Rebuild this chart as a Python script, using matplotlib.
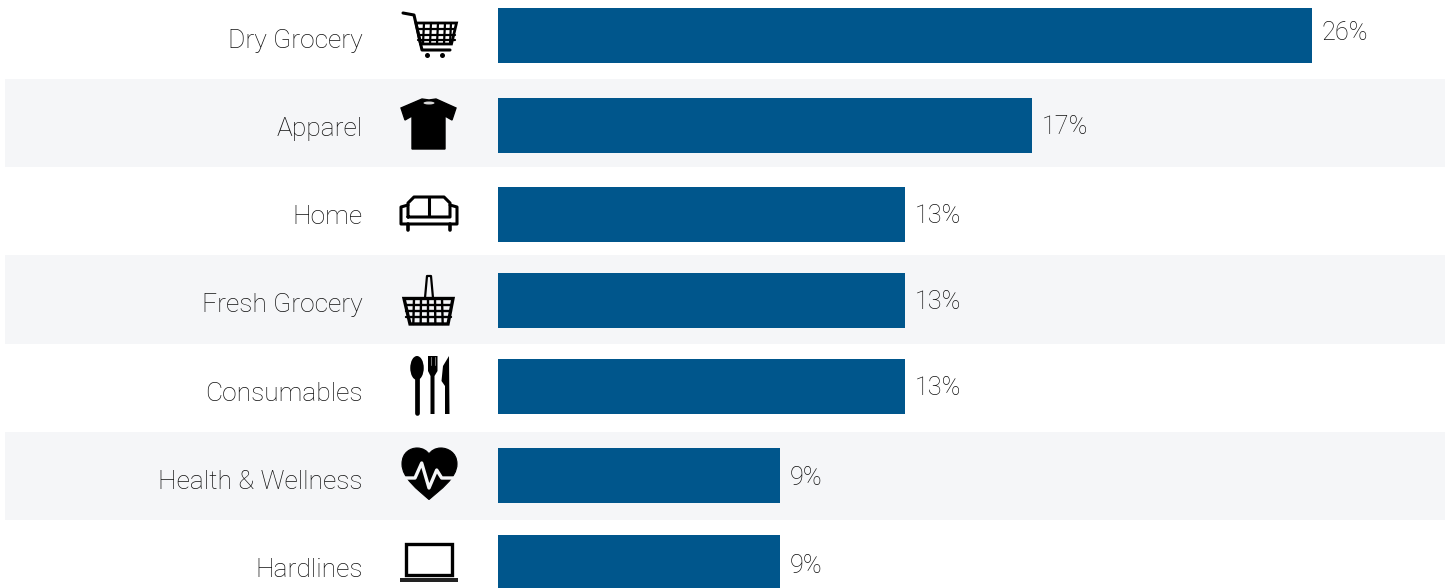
#!/usr/bin/env python3
import matplotlib
matplotlib.use('Agg')
import matplotlib.pyplot as plt
from matplotlib.patches import Circle, Ellipse, PathPatch, Polygon, Rectangle
from matplotlib.path import Path

# data
categories = ['Dry Grocery', 'Apparel', 'Home', 'Fresh Grocery', 'Consumables',
              'Health & Wellness', 'Hardlines']
values = [26, 17.06, 13, 13, 13, 9, 9]
value_labels = ['26%', '17%', '13%', '13%', '13%', '9%', '9%']

# layout, in pixels of the reference
W, H = 1449, 588
bar_y = [35.5, 125.5, 214.5, 300.5, 386.5, 475.5, 562.5]
name_y = [41, 129, 217, 305, 394, 482, 570]
label_y = [33, 127, 216, 302, 388, 478, 566]
bands = [(79, 167), (255, 344), (432, 520)]
BLUE = '#00568c'
BAND = '#f5f6f8'
TEXT = '#111111'

plt.rcParams['font.family'] = ['Roboto', 'DejaVu Sans']

fig = plt.figure(figsize=(W / 100, H / 100), dpi=100)
bg = fig.add_axes([0, 0, 1, 1])
bg.set_xlim(0, W)
bg.set_ylim(H, 0)
bg.axis('off')

for top, bottom in bands:
    bg.add_patch(Rectangle((5, top), 1440, bottom - top, color=BAND, lw=0))

for name, y in zip(categories, name_y):
    bg.text(362.5, y, name, ha='right', va='center', fontsize=19, fontweight='light', color=TEXT)


def line(points, lw=1.5, color='black'):
    xs, ys = zip(*points)
    bg.plot(xs, ys, color=color, lw=lw, solid_capstyle='round', solid_joinstyle='round')


# cart
line([(403, 13), (414, 15), (422, 50), (450, 50)], lw=2.2)
bg.add_patch(Polygon([(416, 23), (456.5, 23), (451.5, 44), (420.5, 44)], fc='none', ec='black', lw=2))
for x in [424, 431, 438, 445, 451]:
    line([(x, 23), (x - 1, 44)], lw=1.6)
for y in [29, 35, 40]:
    line([(418, y), (455, y)], lw=1.6)
bg.add_patch(Circle((427.5, 55.5), 2.5, color='black', lw=0))
bg.add_patch(Circle((442.5, 55.5), 2.5, color='black', lw=0))

# t-shirt
bg.add_patch(Polygon([(422, 99), (429, 100), (436, 99), (456, 108), (452, 120),
                      (445, 116), (445, 149), (412, 149), (412, 116), (405, 120), (401, 108)],
                     fc='black', ec='black', lw=1))
bg.add_patch(Ellipse((429, 103), 11, 3, color='#d8d8d8', lw=0))

# sofa
line([(408, 205), (401, 207), (401, 224), (457, 224), (457, 207), (450, 205)], lw=2.2)
line([(408, 217), (408, 203), (414, 197), (444, 197), (450, 203), (450, 217), (408, 217)], lw=2.2)
line([(429, 197), (429, 216)], lw=2.2)
line([(408, 224), (408, 230)], lw=2.6)
line([(449.5, 224), (449.5, 230)], lw=2.6)

# basket
line([(425, 298), (427, 276), (431, 276), (433, 298)], lw=1.6)
bg.add_patch(Polygon([(404, 298.5), (453, 298.5), (448, 324), (410, 324)], fc='none', ec='black', lw=2.4))
for x in [414, 421, 428, 435, 442]:
    line([(x, 299), (x + (x - 428) * 0.05, 324)], lw=1.7)
for y in [305, 311, 317]:
    line([(406, y), (451, y)], lw=1.7)

# cutlery
bg.add_patch(Ellipse((417, 368), 13.5, 24, color='black', lw=0))
line([(417, 375), (417, 413)], lw=3.4)
bg.add_patch(Polygon([(428, 356), (437.5, 356), (437.5, 371), (434.5, 376), (434.5, 414), (430.5, 414),
                      (430.5, 376), (428, 371)], color='black', lw=0))
for x in [431, 434.5]:
    line([(x, 357), (x, 365)], lw=0.7, color='#777777')
bg.add_patch(Polygon([(449, 356), (449.5, 414), (445, 414), (445, 386), (441.5, 381), (443, 366)],
                     color='black', lw=0))

# heart with pulse
verts = [(429, 499.5),
         (418, 490), (402, 478), (402, 464),
         (402, 452), (411, 448), (417, 448),
         (423, 448), (427, 451), (429, 454),
         (431, 451), (435, 448), (441, 448),
         (447, 448), (457, 452), (457, 464),
         (457, 478), (440, 490), (429, 499.5)]
codes = [Path.MOVETO] + [Path.CURVE4] * 18
bg.add_patch(PathPatch(Path(verts, codes), fc='black', ec='black', lw=0.8))
line([(402, 478), (415, 478), (421.7, 463), (429, 488), (436.7, 470), (441.7, 478), (458, 478)],
     lw=2.4, color=BAND)

# laptop
bg.add_patch(Rectangle((406, 544), 46, 31, fc='none', ec='black', lw=2.4))
bg.add_patch(Rectangle((400, 578), 57.5, 4, fc='#222222', lw=0))

# bars
ax = fig.add_axes([498 / W, 0, (W - 498) / W, 1])
ax.patch.set_alpha(0)
ax.set_xlim(0, (W - 498) / 31.3)
ax.set_ylim(H, 0)
ax.axis('off')
ax.barh(bar_y, values, height=55, color=BLUE, lw=0)
for v, txt, y in zip(values, value_labels, label_y):
    ax.annotate(txt, (v, y), xytext=(10, 0), textcoords='offset pixels', ha='left', va='center',
                fontsize=18.2, fontweight='light', color=TEXT)

fig.savefig('out.png', dpi=100)
